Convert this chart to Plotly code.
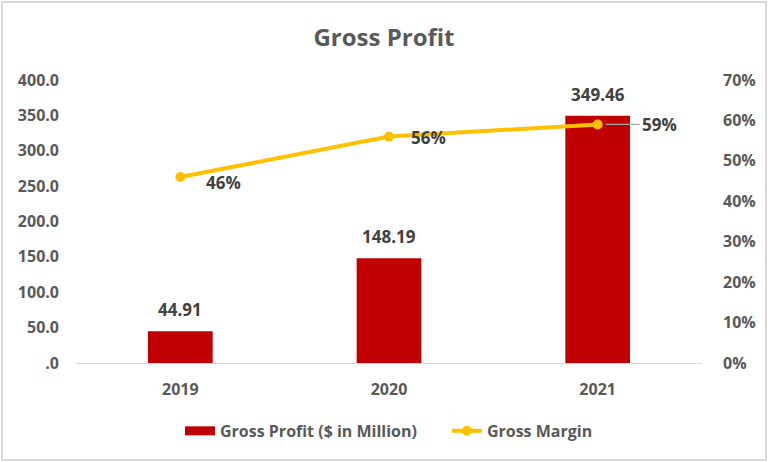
import plotly.graph_objects as go

years = ["2019", "2020", "2021"]
gross_profit = [44.91, 148.19, 349.46]
gross_margin = [0.46, 0.56, 0.59]
profit_labels = ["44.91", "148.19", "349.46"]
margin_labels = ["46%", "56%", "59%"]
left_tickvals = [0, 50, 100, 150, 200, 250, 300, 350, 400]
left_ticktext = [".0", "50.0", "100.0", "150.0", "200.0", "250.0", "300.0", "350.0", "400.0"]
right_tickvals = [0, 0.1, 0.2, 0.3, 0.4, 0.5, 0.6, 0.7]
right_ticktext = ["0%", "10%", "20%", "30%", "40%", "50%", "60%", "70%"]

FONT = "Open Sans"
GRAY = "#595959"
DARK = "#404040"
RED = "#C00000"
GOLD = "#FFC000"
NB = "\u00a0"

fig = go.Figure()
fig.add_trace(go.Bar(
    x=years, y=gross_profit, name="Gross Profit ($ in Million)",
    marker=dict(color=RED, line=dict(width=0)),
    showlegend=False,
))
# legend entry with a wide red block like the reference
fig.add_trace(go.Scatter(
    x=[None], y=[None], name="Gross Profit ($ in Million)" + NB * 6, mode="lines",
    line=dict(color=RED, width=9), showlegend=True,
))
fig.add_trace(go.Scatter(
    x=years, y=gross_margin, name="Gross Margin", yaxis="y2",
    mode="lines+markers",
    line=dict(color=GOLD, width=4),
    marker=dict(color=GOLD, size=10),
))

# bar value labels
for i, (v, lab) in enumerate(zip(gross_profit, profit_labels)):
    fig.add_annotation(x=i, y=v, xref="x", yref="y", text=lab, showarrow=False,
                       yanchor="bottom", yshift=8,
                       font=dict(family=FONT, size=17, color=DARK, weight="bold"))

# margin labels
shifts = [(24, -5), (20, -1)]
for i, (m, lab) in enumerate(zip(gross_margin, margin_labels)):
    if i == len(gross_margin) - 1:
        fig.add_annotation(x=i, y=m, xref="x", yref="y2", text=lab, showarrow=True,
                           arrowhead=0, arrowcolor="#A6A6A6", arrowwidth=1.2,
                           ax=42, ay=0, xanchor="left", standoff=8,
                           font=dict(family=FONT, size=17, color=DARK, weight="bold"))
    else:
        fig.add_annotation(x=i, y=m, xref="x", yref="y2", text=lab, showarrow=False,
                           xanchor="left", xshift=shifts[i][0], yshift=shifts[i][1],
                           font=dict(family=FONT, size=17, color=DARK, weight="bold"))

# outer border
fig.add_shape(type="rect", xref="paper", yref="paper",
              x0=-0.1182, x1=1.1022, y0=-0.3428, y1=1.2756,
              line=dict(color="#D9D9D9", width=2), layer="below")

fig.update_layout(
    width=768, height=462,
    margin=dict(l=76, r=66, t=80, b=99),
    paper_bgcolor="white", plot_bgcolor="white",
    title=dict(text="Gross Profit", x=0.5, xanchor="center", y=0.918, yanchor="middle",
               font=dict(family=FONT, size=24, color=GRAY, weight="bold")),
    font=dict(family=FONT, color=GRAY),
    bargap=0.69,
    xaxis=dict(type="category", categoryorder="array", categoryarray=years,
               range=[-0.5, 2.5], autorange=False,
               showgrid=False, showline=True, linecolor="#D9D9D9", linewidth=1,
               tickfont=dict(family=FONT, size=16, color=GRAY, weight="bold"),
               ticks="", ticklabelstandoff=12),
    yaxis=dict(range=[0, 400], autorange=False, tickvals=left_tickvals, ticktext=left_ticktext,
               showgrid=False, zeroline=False, showline=False, ticks="",
               ticklabelstandoff=16,
               tickfont=dict(family=FONT, size=16, color=GRAY, weight="bold")),
    yaxis2=dict(range=[0, 0.7], autorange=False, tickvals=right_tickvals, ticktext=right_ticktext,
                overlaying="y", side="right", showgrid=False, zeroline=False,
                showline=False, ticks="", ticklabelstandoff=20,
                tickfont=dict(family=FONT, size=16, color=GRAY, weight="bold")),
    legend=dict(orientation="h", x=0.5, xanchor="center", y=-0.24, yanchor="middle",
                font=dict(family=FONT, size=16, color=GRAY, weight="bold"),
                traceorder="normal"),
    showlegend=True,
)

fig.write_html("out.html", config={"displayModeBar": False},
               post_script="document.body.style.margin='0';document.body.style.padding='0';")
